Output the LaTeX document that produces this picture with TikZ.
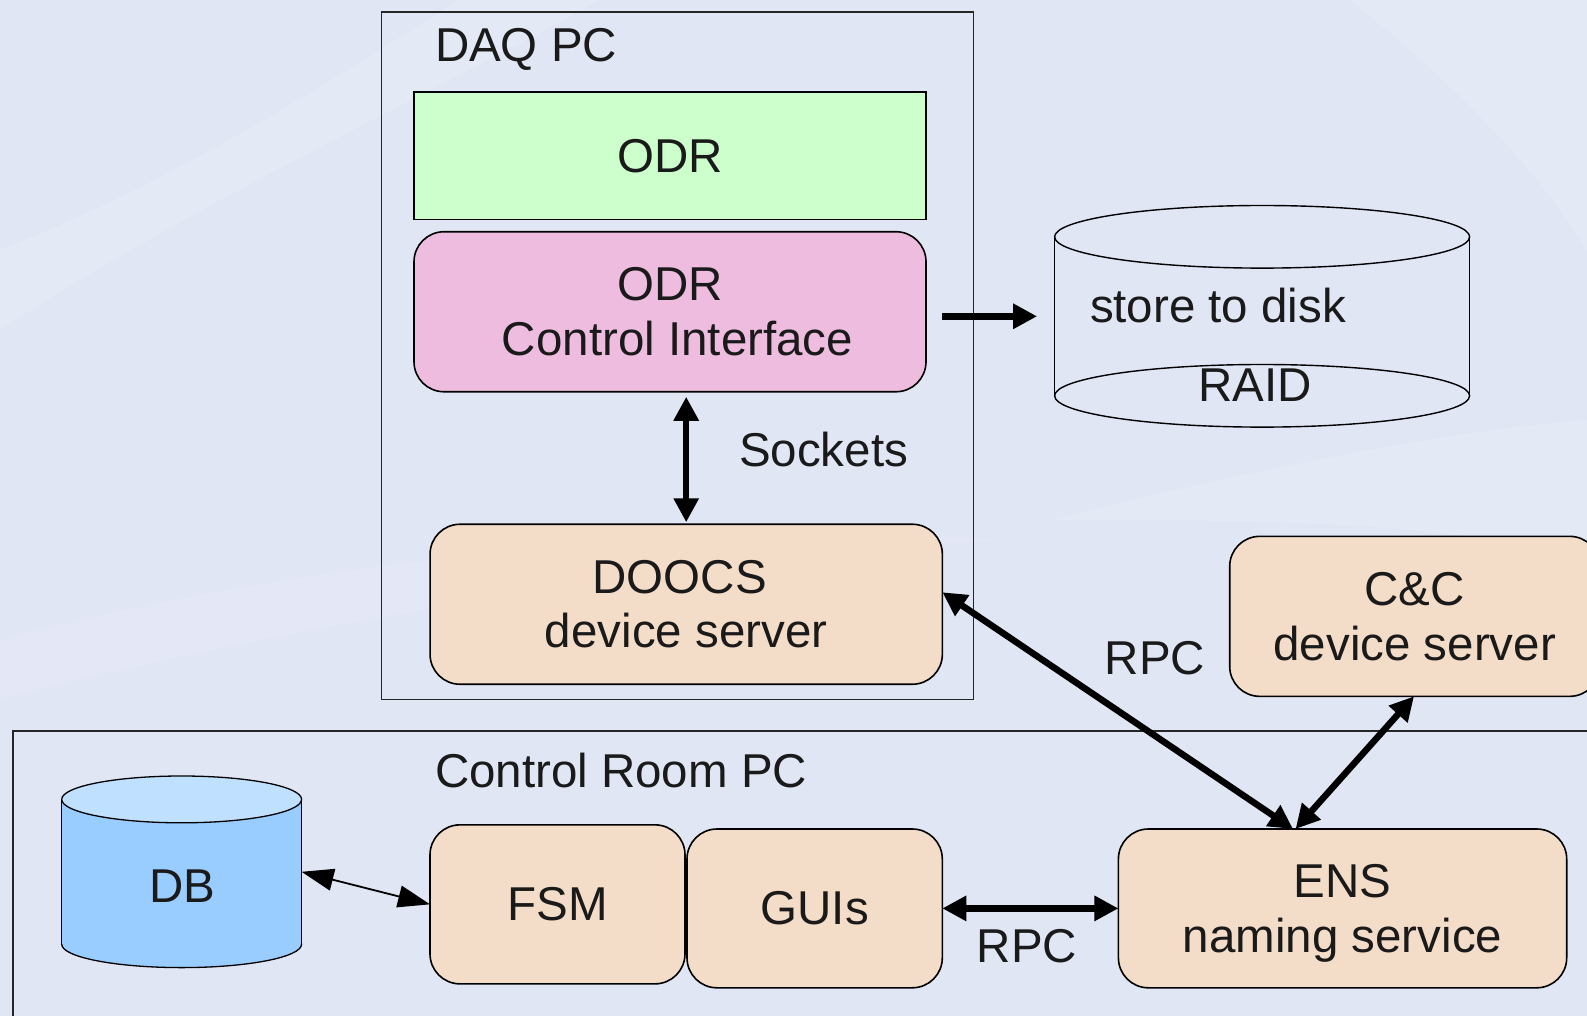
\documentclass[tikz,border=0pt]{standalone}
\usepackage{fontspec}
\setmainfont{Liberation Sans}
\usetikzlibrary{arrows.meta,calc}
\definecolor{bgcol}{RGB}{225,230,245}
\definecolor{odrgreen}{RGB}{204,255,204}
\definecolor{cipink}{RGB}{237,188,223}
\definecolor{peach}{RGB}{243,220,200}
\definecolor{dbbody}{RGB}{153,204,255}
\definecolor{dbtop}{RGB}{191,224,255}
\definecolor{textcol}{RGB}{26,26,26}
\begin{document}
\begin{tikzpicture}[x=1pt,y=-1pt,
  txt/.style={font=\fontsize{47.5}{54.7}\selectfont, text=textcol, inner sep=0pt, outer sep=0pt},
  frame/.style={draw=black!85, line width=1.8pt, inner sep=0pt, outer sep=0pt},
  box/.style={draw=black, line width=1.6pt, rounded corners=30pt, inner sep=0pt, outer sep=0pt,
              align=center, font=\fontsize{47.5}{54.7}\selectfont, text=textcol},
  bigarrow/.style={line width=6.5pt, arrows={Triangle[length=24pt,width=24pt]-Triangle[length=24pt,width=24pt]}},
  onearrow/.style={line width=6.5pt, arrows={-Triangle[length=24pt,width=24pt]}},
  dbarrow/.style={line width=1.8pt, arrows={Triangle[length=32pt,width=22pt]-Triangle[length=32pt,width=22pt]}}]
\clip (0,0) rectangle (1587,1016);
% background
\fill[bgcol] (0,0) rectangle (1587,1016);
\fill[white, opacity=0.13] (0,250) .. controls (180,180) and (330,80) .. (460,0) -- (600,0) .. controls (420,100) and (200,200) .. (0,330) -- cycle;
\fill[white, opacity=0.13] (1050,520) .. controls (1250,470) and (1450,430) .. (1587,420) -- (1587,560) .. controls (1450,520) and (1250,520) .. (1050,520) -- cycle;
\fill[white, opacity=0.13] (1350,0) .. controls (1450,80) and (1530,160) .. (1587,250) -- (1587,0) -- cycle;
\fill[white, opacity=0.10] (0,640) .. controls (300,560) and (700,520) .. (1000,540) .. controls (700,560) and (300,620) .. (0,700) -- cycle;

% containers
\node[frame, minimum width=592pt, minimum height=687.5pt] (daq) at (677.5,355.75) {};
\node[txt, anchor=base west] (daqlbl) at (435,61.7) {DAQ PC};
\node[frame, minimum width=1606.8pt, minimum height=319.3pt] (crpc) at (816.6,890.35) {};
\node[txt, anchor=base west] (crpclbl) at (435,787.5) {Control Room PC};

% boxes
\node[box, rounded corners=0pt, fill=odrgreen, minimum width=512pt, minimum height=127.6pt] (odr) at (670,155.8) {ODR};
\node[box, fill=cipink, minimum width=512pt, minimum height=160pt] (ci) at (670,311.75) {ODR\\\hspace*{15pt}Control Interface};
\node[box, fill=peach, minimum width=512.3pt, minimum height=160pt] (doocs) at (686.2,604.25) {DOOCS\hspace*{13pt}\\device server};
\node[box, fill=peach, minimum width=370pt, minimum height=160pt] (cc) at (1414.7,616.35) {C\&C\\device server};
\node[box, fill=peach, minimum width=255pt, minimum height=159pt] (fsm) at (557.5,904.35) {FSM};
\node[box, fill=peach, minimum width=255.3pt, minimum height=158.8pt] (gui) at (814.65,908.4) {GUIs};
\node[box, fill=peach, minimum width=448.3pt, minimum height=158.8pt] (ens) at (1342.55,908.4) {ENS\\\raisebox{0pt}[\height][0pt]{naming service}};

% RAID cylinder
\node[inner sep=0pt, outer sep=0pt, minimum width=415pt, minimum height=221.6pt] (raid) at (1262.1,316.3) {};
\draw[line width=1.4pt, black] (1262.1,236.8) ellipse [x radius=207.5pt, y radius=31.3pt];
\draw[line width=1.4pt, black] (1262.1,395.8) ellipse [x radius=207.5pt, y radius=31.3pt];
\draw[line width=1.4pt, black] (1054.6,236.8) -- (1054.6,395.8);
\draw[line width=1.4pt, black] (1469.6,236.8) -- (1469.6,395.8);
\node[txt, anchor=base west] (store) at (1090,322) {store to disk};
\node[txt, anchor=base] (raidlbl) at (1255,401.5) {RAID};

% DB cylinder
\node[inner sep=0pt, outer sep=0pt, minimum width=239.9pt, minimum height=191.6pt] (db) at (181.65,871.8) {};
\filldraw[fill=dbbody, draw=black, line width=1.3pt] (181.65,944.2) ellipse [x radius=119.95pt, y radius=23.4pt];
\fill[dbbody] (61.7,799.4) rectangle (301.6,944.2);
\draw[line width=1.3pt] (61.7,799.4) -- (61.7,944.2);
\draw[line width=1.3pt] (301.6,799.4) -- (301.6,944.2);
\filldraw[fill=dbtop, draw=black, line width=1.3pt] (181.65,799.4) ellipse [x radius=119.95pt, y radius=23.4pt];
\node[txt, anchor=base] (dblbl) at (182,902) {DB};

% connectors
\draw[onearrow, shorten <=16pt, shorten >=17.5pt] (ci.east |- raid.west) -- (raid.west);
\draw[bigarrow, shorten <=5pt, shorten >=2pt] (ci.south -| doocs.north) -- (doocs.north);
\node[txt, anchor=base west] (sockets) at (739,466) {Sockets};
\draw[bigarrow] ([yshift=12pt]doocs.east) -- ([xshift=-49.5pt]ens.north);
\draw[bigarrow] ([xshift=-0.7pt]cc.south) -- ([xshift=-47pt]ens.north);
\node[txt, anchor=base] (rpc1) at (1155,674) {RPC};
\draw[bigarrow] (gui.east) -- (ens.west);
\node[txt, anchor=base] (rpc2) at (1027,962.5) {RPC};
\draw[dbarrow] (db.east) -- (fsm.west);
\end{tikzpicture}
\end{document}
